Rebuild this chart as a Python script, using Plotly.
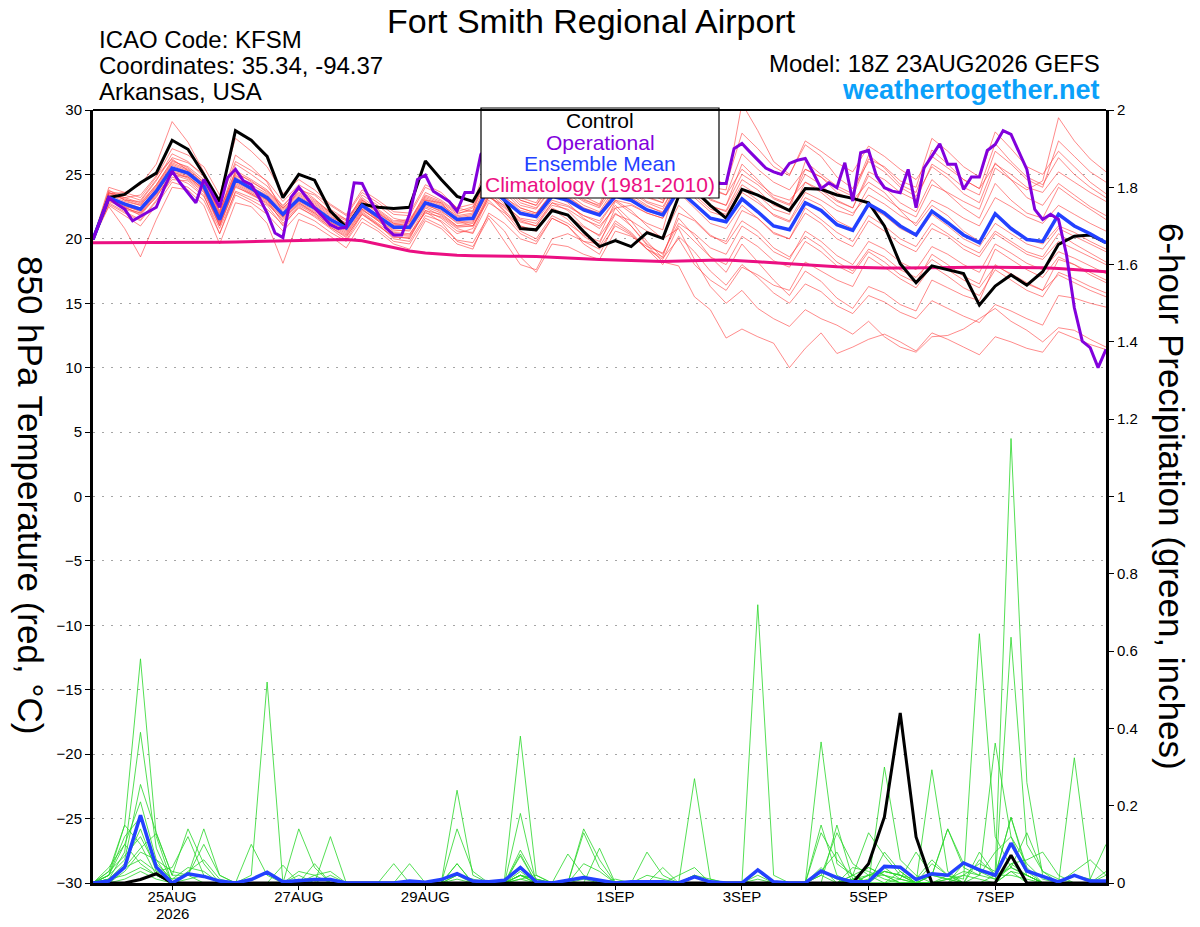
import pandas as pd
import plotly.graph_objects as go

RUN_START = "2026-08-23 18:00"
times = pd.date_range(RUN_START, periods=65, freq="6h")
op_times = pd.date_range(RUN_START, periods=129, freq="3h")

tick_dates = ["2026-08-25", "2026-08-27", "2026-08-29", "2026-09-01",
              "2026-09-03", "2026-09-05", "2026-09-07"]
tick_text = ["25AUG", "27AUG", "29AUG", "1SEP", "3SEP", "5SEP", "7SEP"]
year_label = "2026"
temp_ticks = [30, 25, 20, 15, 10, 5, 0, -5, -10, -15, -20, -25, -30]
precip_ticks = [0, 0.2, 0.4, 0.6, 0.8, 1, 1.2, 1.4, 1.6, 1.8, 2]

# ---- 850 hPa temperature (deg C) ----
control_t = [19.95, 23.2, 23.45, 24.35, 25.1, 27.65, 26.95, 25.0, 22.9, 28.4, 27.65, 26.4, 23.2,
             25.0, 24.55, 22.15, 20.9, 22.7, 22.45, 22.35, 22.45, 26.05, 24.6, 23.3, 22.9, 25.0,
             23.0, 20.8, 20.7, 22.2, 21.85, 20.56, 19.4, 19.86, 19.4, 20.48, 20.04, 23.3, 23.8,
             22.6, 21.6, 23.84, 23.4, 22.8, 22.2, 23.9, 23.84, 23.4, 23.14, 22.8, 21.0, 18.07,
             16.6, 17.9, 17.6, 17.3, 14.86, 16.33, 17.2, 16.4, 17.45, 19.57, 20.2, 20.3, 19.7]

mean_t = [19.95, 23.2, 22.7, 22.3, 23.7, 25.5, 25.1, 24.1, 21.5, 24.6, 23.9, 23.2, 21.9,
          23.1, 22.4, 21.5, 20.85, 22.6, 21.75, 20.9, 20.9, 22.8, 22.4, 21.5, 21.6, 24.0,
          23.0, 21.98, 21.72, 23.3, 23.0, 22.24, 21.85, 23.3, 23.0, 22.24, 21.85, 23.8, 22.7,
          21.6, 21.33, 23.1, 22.1, 21.0, 20.7, 22.8, 22.2, 21.1, 20.65, 22.7, 22.0, 21.0,
          20.3, 22.15, 21.25, 20.3, 19.7, 21.95, 20.8, 19.95, 19.8, 21.9, 21.0, 20.4, 19.7]

oper_t = [19.95, 21.6, 23.2, 22.7, 22.3, 21.4, 21.75, 22.1, 22.45, 23.95,
          25.25, 24.35, 23.6, 22.8, 24.6, 23.6, 22.45, 24.75, 25.4, 24.5,
          24.2, 23.2, 22.0, 20.45, 20.1, 23.2, 24.0, 23.2, 22.4, 21.75,
          21.1, 20.8, 20.9, 24.35, 24.3, 23.05, 21.9, 20.85, 20.3, 20.3,
          21.9, 24.6, 24.95, 23.7, 23.3, 22.9, 22.15, 23.6, 23.6, 26.55,
          27.2, 26.5, 25.5, 24.8, 24.3, 24.0, 24.5, 26.0, 26.8, 26.3,
          25.6, 25.0, 24.5, 24.3, 24.6, 25.8, 26.6, 26.2, 25.5, 24.9,
          24.4, 24.0, 24.3, 25.5, 26.4, 26.0, 25.2, 24.6, 24.3, 24.3,
          24.3, 27.0, 27.4, 26.75, 26.1, 25.5, 25.2, 25.0, 25.85, 26.1,
          26.24, 25.13, 23.9, 24.35, 23.97, 25.9, 22.93, 26.68, 26.86, 24.87,
          23.97, 23.7, 23.58, 25.39, 22.41, 25.5, 26.42, 27.38, 25.78, 25.78,
          23.84, 24.8, 24.8, 26.86, 27.33, 28.4, 28.1, 26.68, 25.39, 22.28,
          21.5, 21.9, 21.5, 18.8, 14.65, 12.06, 11.55, 10.0, 11.42]

clim_t = [19.7, 19.7, 19.7, 19.7, 19.7, 19.7, 19.7, 19.72, 19.74, 19.76, 19.78, 19.8, 19.82,
          19.85, 19.88, 19.92, 19.95, 19.85, 19.6, 19.3, 19.05, 18.9, 18.8, 18.72, 18.68, 18.68,
          18.66, 18.64, 18.62, 18.58, 18.52, 18.46, 18.4, 18.34, 18.3, 18.27, 18.25, 18.26, 18.3,
          18.33, 18.35, 18.3, 18.22, 18.14, 18.06, 17.98, 17.9, 17.84, 17.8, 17.76, 17.74, 17.74,
          17.76, 17.78, 17.8, 17.8, 17.8, 17.8, 17.8, 17.78, 17.75, 17.7, 17.62, 17.55, 17.45]

temp_m01 = [20.0, 23.8, 23.0, 22.9, 24.5, 26.6, 26.0, 24.8, 22.0, 25.8, 25.0, 24.1, 22.5,
            24.0, 23.1, 22.0, 21.2, 23.4, 22.6, 21.6, 21.3, 23.6, 23.0, 22.1, 22.5, 25.2,
            24.3, 23.0, 22.6, 24.6, 24.2, 23.1, 22.5, 24.8, 24.4, 23.3, 22.8, 25.5, 24.3,
            23.0, 22.6, 25.8, 24.6, 23.2, 22.7, 25.0, 24.2, 23.0, 22.4, 24.9, 24.0, 22.8,
            22.1, 24.6, 23.5, 22.4, 21.6, 24.3, 23.0, 22.0, 21.6, 24.0, 23.1, 22.3, 21.5]
temp_m02 = [19.9, 23.5, 23.6, 24.2, 25.8, 29.1, 27.5, 25.2, 22.6, 26.5, 25.6, 24.4, 22.0,
            23.8, 23.4, 22.3, 21.5, 23.1, 22.0, 21.2, 21.0, 23.0, 22.8, 21.4, 21.0, 23.5,
            22.2, 21.0, 20.6, 22.4, 21.8, 20.9, 20.3, 22.9, 22.0, 21.2, 20.7, 25.0, 24.6,
            24.0, 23.8, 30.5, 28.4, 26.0, 25.0, 27.3, 26.4, 24.8, 23.9, 26.0, 25.2, 24.0,
            23.3, 25.6, 24.7, 23.5, 22.8, 25.9, 24.6, 23.2, 22.6, 24.3, 23.4, 22.5, 21.8]
temp_m03 = [19.95, 22.8, 22.1, 21.5, 23.0, 24.6, 24.5, 23.4, 20.4, 23.7, 23.2, 22.6, 21.0,
            22.5, 21.7, 20.8, 19.9, 21.9, 21.0, 20.2, 20.0, 22.2, 21.6, 20.6, 20.5, 23.3,
            22.4, 21.3, 21.0, 22.6, 22.3, 21.5, 21.0, 22.4, 21.0, 19.5, 18.2, 17.9, 15.5,
            14.5, 12.3, 13.0, 12.4, 11.9, 10.0, 11.5, 12.7, 11.1, 11.6, 12.2, 12.6, 12.0,
            11.3, 12.7, 12.2, 11.6, 11.0, 12.4, 12.0, 11.5, 11.2, 12.8, 12.3, 11.8, 11.4]
temp_m04 = [20.0, 23.0, 22.3, 21.9, 23.4, 25.0, 24.8, 23.9, 21.0, 24.0, 23.5, 22.9, 21.6,
            22.8, 22.0, 21.1, 20.4, 22.2, 21.5, 20.7, 20.6, 22.5, 22.0, 21.0, 21.2, 23.8,
            22.7, 21.5, 21.2, 22.8, 22.5, 21.8, 21.2, 23.0, 22.2, 21.0, 20.0, 20.8, 18.4,
            16.3, 15.0, 16.0, 14.6, 13.8, 13.2, 14.5, 13.8, 13.3, 12.6, 13.6, 12.4, 11.6,
            11.2, 12.4, 12.5, 13.0, 13.8, 14.6, 13.6, 12.9, 12.0, 13.1, 12.9, 12.2, 11.6]
temp_m05 = [19.9, 22.9, 22.4, 22.0, 23.2, 25.2, 24.8, 23.8, 21.2, 24.3, 23.6, 23.0, 21.7,
            23.2, 22.5, 21.6, 20.9, 22.3, 21.4, 20.5, 20.4, 22.0, 21.7, 20.8, 20.4, 22.8,
            22.0, 21.0, 20.6, 22.3, 21.5, 20.2, 19.4, 21.4, 20.5, 19.2, 18.0, 20.2, 19.0,
            17.5, 16.4, 18.0, 17.0, 15.8, 15.0, 16.5, 15.9, 14.8, 14.2, 15.6, 15.1, 14.3,
            13.8, 15.2, 14.6, 14.0, 13.5, 14.9, 14.4, 13.8, 13.3, 15.6, 15.4, 15.0, 14.7]
temp_m06 = [20.0, 23.6, 23.2, 22.8, 24.2, 26.0, 25.6, 24.6, 22.2, 25.2, 24.4, 23.7, 22.6,
            23.8, 23.0, 22.1, 21.5, 23.2, 22.3, 21.4, 21.5, 23.4, 22.9, 22.0, 22.2, 24.8,
            24.0, 22.8, 22.4, 24.0, 23.7, 22.9, 22.4, 24.2, 23.8, 22.9, 22.5, 24.5, 23.6,
            22.5, 22.2, 24.6, 23.8, 22.6, 22.2, 26.0, 25.0, 24.1, 23.5, 26.5, 25.5, 24.2,
            23.6, 26.9, 25.8, 24.6, 23.9, 27.4, 26.0, 24.8, 24.2, 26.3, 25.0, 24.0, 23.2]
temp_m07 = [19.95, 22.5, 20.8, 18.6, 21.5, 24.0, 23.8, 22.6, 19.6, 22.8, 22.5, 21.2, 18.1,
            21.5, 21.0, 20.2, 19.3, 21.3, 20.6, 19.6, 19.2, 21.4, 20.8, 19.6, 19.2, 22.0,
            21.2, 20.0, 19.6, 21.6, 21.0, 19.8, 19.2, 21.0, 20.3, 19.2, 18.6, 22.0, 21.4,
            20.2, 19.8, 22.2, 21.6, 20.5, 20.0, 22.4, 21.5, 20.5, 19.8, 21.8, 21.0, 20.0,
            19.4, 21.2, 20.4, 19.5, 18.9, 20.6, 19.8, 19.0, 18.6, 20.4, 19.6, 18.9, 18.2]
temp_m08 = [20.0, 24.0, 23.6, 23.2, 24.8, 27.0, 26.5, 25.6, 23.4, 27.8, 26.8, 25.6, 23.5,
            24.6, 23.8, 22.7, 21.9, 23.8, 23.0, 22.1, 22.0, 24.2, 23.6, 22.4, 22.1, 25.6,
            24.6, 23.2, 22.8, 24.8, 24.2, 23.3, 22.7, 25.3, 24.6, 23.6, 23.0, 26.2, 25.0,
            24.0, 23.4, 26.6, 25.4, 24.4, 23.8, 25.4, 24.8, 23.6, 23.0, 24.4, 23.6, 22.2,
            21.0, 22.6, 21.8, 20.6, 19.8, 21.8, 20.9, 20.0, 19.6, 21.0, 20.5, 19.8, 19.2]
temp_m09 = [19.9, 23.3, 22.6, 22.1, 23.5, 25.4, 25.0, 24.0, 21.4, 24.5, 23.8, 23.0, 21.8,
            23.0, 22.3, 21.3, 20.6, 22.5, 21.5, 20.6, 20.7, 22.6, 22.2, 21.2, 21.3, 23.8,
            23.2, 22.4, 22.0, 23.5, 22.8, 21.6, 20.8, 22.6, 21.4, 19.8, 18.5, 20.0, 18.0,
            16.8, 16.0, 17.8, 17.2, 16.4, 16.0, 18.2, 17.5, 16.8, 16.3, 18.6, 17.8, 16.9,
            16.2, 17.9, 17.1, 16.2, 15.6, 17.6, 16.8, 16.0, 15.5, 17.4, 16.9, 16.3, 15.8]
temp_m10 = [20.0, 23.4, 22.9, 22.6, 24.0, 25.8, 25.3, 24.3, 21.8, 24.9, 24.2, 23.5, 22.3,
            23.4, 22.7, 21.8, 21.0, 22.9, 22.0, 21.1, 21.2, 23.1, 22.6, 21.8, 22.0, 24.5,
            23.8, 22.6, 22.3, 23.9, 23.5, 22.6, 22.1, 24.0, 23.6, 22.8, 22.3, 24.8, 24.0,
            23.1, 22.6, 25.0, 24.2, 23.1, 22.6, 25.4, 24.8, 23.9, 23.3, 26.2, 25.6, 24.5,
            24.0, 27.8, 26.8, 25.6, 24.8, 28.3, 27.0, 25.6, 25.0, 26.8, 25.6, 24.4, 23.5]
temp_m11 = [19.95, 23.1, 22.8, 22.4, 23.9, 25.7, 25.2, 24.0, 21.6, 24.8, 24.0, 23.4, 22.2,
            23.3, 22.6, 21.7, 21.1, 22.8, 21.8, 21.0, 21.1, 23.0, 22.5, 21.6, 21.8, 24.2,
            23.3, 22.2, 21.9, 23.5, 23.2, 22.4, 22.0, 23.6, 23.2, 22.5, 22.1, 24.2, 23.2,
            22.1, 21.7, 23.6, 22.8, 21.9, 21.4, 23.6, 23.0, 22.2, 21.8, 24.0, 23.2, 22.3,
            21.7, 24.2, 23.6, 22.9, 22.3, 25.5, 24.6, 23.8, 24.5, 29.4, 27.6, 26.2, 25.2]
temp_m12 = [20.0, 23.0, 22.5, 22.2, 23.6, 25.3, 24.9, 23.8, 21.3, 24.4, 23.7, 23.1, 21.7,
            22.9, 22.2, 21.3, 20.7, 22.4, 21.6, 20.8, 20.8, 22.7, 22.1, 21.3, 21.4, 23.6,
            22.5, 21.4, 21.0, 22.8, 22.2, 21.0, 20.2, 22.0, 21.0, 19.6, 18.8, 21.6, 20.2,
            18.6, 17.4, 19.6, 18.2, 16.8, 15.6, 17.5, 16.7, 15.4, 14.6, 16.3, 15.8, 14.9,
            14.4, 16.8, 16.2, 15.6, 15.2, 18.0, 17.2, 16.5, 16.0, 18.4, 18.0, 17.2, 16.6]
temp_m13 = [19.9, 23.7, 23.4, 23.0, 24.6, 26.3, 25.9, 25.0, 22.8, 26.0, 25.3, 24.5, 22.9,
            24.2, 23.5, 22.6, 21.8, 23.6, 22.8, 21.9, 21.8, 24.0, 23.4, 22.4, 22.7, 26.2,
            25.4, 24.0, 23.6, 25.4, 25.0, 24.0, 23.4, 25.8, 25.2, 24.4, 23.8, 27.2, 26.0,
            24.8, 24.2, 28.2, 27.0, 25.6, 24.9, 27.6, 26.8, 25.9, 25.2, 27.2, 26.4, 25.4,
            24.6, 26.4, 25.5, 24.6, 23.9, 25.8, 25.0, 24.0, 23.6, 25.2, 24.4, 23.6, 22.9]
temp_m14 = [20.0, 23.2, 22.5, 21.8, 23.3, 25.0, 24.6, 23.6, 21.0, 24.1, 23.4, 22.8, 21.4,
            22.7, 22.0, 21.0, 20.3, 22.1, 21.2, 20.3, 20.2, 22.1, 21.3, 19.8, 19.4, 21.6,
            19.8, 18.0, 17.6, 20.0, 20.4, 19.8, 19.6, 22.4, 22.6, 22.0, 21.6, 24.2, 23.4,
            22.3, 21.9, 23.9, 23.0, 21.8, 21.3, 23.2, 22.6, 21.4, 20.8, 22.5, 21.8, 20.8,
            20.2, 21.9, 21.0, 20.0, 19.4, 21.2, 20.4, 19.6, 19.2, 20.8, 20.2, 19.6, 19.0]
temp_m15 = [19.95, 23.5, 23.2, 23.4, 24.9, 26.2, 25.3, 24.2, 21.9, 25.0, 24.1, 23.0, 21.2,
            22.6, 21.9, 20.9, 20.1, 22.0, 21.1, 20.0, 19.8, 21.8, 21.4, 20.4, 20.8, 23.4,
            22.1, 20.6, 20.0, 21.8, 21.2, 20.3, 19.8, 21.9, 21.4, 20.6, 20.1, 22.6, 21.5,
            20.3, 19.6, 21.4, 20.6, 19.3, 18.6, 20.2, 19.4, 18.2, 17.5, 19.2, 18.6, 17.6,
            17.0, 18.4, 17.6, 16.8, 16.2, 17.9, 17.3, 16.6, 16.0, 17.2, 16.6, 16.0, 15.5]
temp_m16 = [20.0, 22.7, 22.0, 21.4, 22.9, 24.8, 24.3, 23.3, 20.8, 23.6, 23.0, 22.3, 21.1,
            22.4, 21.8, 20.9, 20.2, 21.9, 21.1, 20.1, 20.1, 22.2, 21.9, 21.0, 21.0, 23.2,
            22.6, 21.6, 21.4, 23.0, 22.6, 21.8, 21.4, 23.0, 22.7, 22.0, 21.6, 23.6, 22.4,
            21.2, 20.8, 22.6, 21.6, 20.4, 20.0, 22.0, 21.2, 20.0, 19.4, 21.4, 20.6, 19.6,
            19.0, 20.8, 20.2, 19.2, 18.6, 20.4, 19.6, 18.8, 18.4, 19.8, 19.2, 18.6, 18.0]
temp_m17 = [20.0, 23.1, 22.4, 22.0, 23.5, 25.2, 24.7, 23.7, 21.1, 24.2, 23.5, 22.7, 21.5,
            22.8, 22.1, 21.2, 20.5, 22.3, 21.4, 20.4, 20.3, 22.4, 21.8, 20.9, 21.0, 23.0,
            21.8, 20.4, 19.8, 21.6, 21.0, 19.6, 18.8, 21.2, 20.4, 19.2, 18.4, 21.0, 19.8,
            18.6, 18.0, 20.2, 19.4, 18.3, 17.8, 19.8, 19.0, 17.9, 17.3, 19.0, 18.2, 17.2,
            16.6, 18.8, 18.0, 17.1, 16.5, 19.2, 18.4, 17.6, 17.0, 18.6, 18.0, 17.4, 16.8]
temp_m18 = [19.95, 23.6, 23.0, 22.6, 24.1, 25.9, 25.4, 24.4, 22.1, 25.3, 24.6, 23.8, 22.4,
            23.6, 22.9, 22.0, 21.4, 23.0, 22.2, 21.3, 21.4, 23.3, 22.8, 21.9, 22.4, 25.0,
            24.2, 23.0, 22.6, 24.2, 23.9, 23.0, 22.6, 24.6, 24.0, 23.2, 22.8, 26.0, 24.9,
            23.8, 23.4, 25.4, 24.4, 23.4, 23.0, 24.4, 23.6, 22.6, 22.0, 23.4, 22.7, 21.8,
            21.2, 23.0, 22.4, 21.6, 21.0, 23.2, 22.5, 21.7, 21.2, 22.6, 21.9, 21.2, 20.6]
temp_m19 = [20.0, 22.6, 21.8, 21.0, 22.6, 24.4, 24.0, 23.0, 20.4, 23.4, 22.8, 21.9, 20.6,
            22.0, 21.4, 20.5, 19.8, 21.6, 20.8, 19.8, 19.6, 21.6, 21.0, 19.9, 19.7, 21.8,
            20.6, 18.6, 17.4, 19.6, 19.4, 18.8, 18.4, 20.6, 20.2, 19.4, 18.9, 21.2, 20.4,
            19.3, 18.8, 21.0, 20.2, 19.0, 18.4, 20.6, 19.8, 18.7, 18.0, 19.8, 19.2, 18.2,
            17.6, 19.4, 18.8, 18.0, 17.4, 19.6, 18.9, 18.1, 17.6, 19.0, 18.5, 17.9, 17.3]
temp_m20 = [19.9, 23.4, 23.1, 22.7, 24.2, 26.1, 25.5, 24.4, 21.9, 25.1, 24.5, 23.6, 22.4,
            23.5, 22.8, 21.9, 21.2, 23.0, 22.1, 21.2, 21.3, 23.2, 22.7, 21.7, 21.9, 24.4,
            23.6, 22.4, 22.0, 23.6, 23.3, 22.4, 21.9, 23.8, 23.4, 22.6, 22.0, 24.6, 23.6,
            22.6, 22.1, 24.2, 23.4, 22.3, 21.9, 24.4, 23.8, 22.9, 22.4, 25.2, 24.6, 23.6,
            23.0, 25.8, 25.0, 24.0, 23.4, 26.8, 25.8, 24.6, 24.0, 27.6, 26.4, 25.2, 24.4]

# ---- 6-hour precipitation (inches) ----
control_p = [0, 0, 0, 0.009, 0.024, 0, 0, 0, 0, 0, 0, 0, 0,
             0, 0, 0, 0, 0, 0, 0, 0, 0, 0, 0, 0, 0,
             0, 0, 0, 0, 0, 0, 0, 0, 0, 0, 0, 0, 0,
             0, 0, 0, 0, 0, 0, 0, 0, 0, 0, 0.05, 0.171, 0.44,
             0.119, 0, 0, 0, 0, 0, 0.072, 0, 0, 0, 0, 0, 0]
mean_p = [0, 0.005, 0.041, 0.175, 0.041, 0, 0.024, 0.017, 0.005, 0, 0.009, 0.028, 0.003,
          0.007, 0.009, 0.009, 0, 0, 0, 0, 0.005, 0.002, 0.009, 0.024, 0.005, 0.003,
          0.007, 0.040, 0.003, 0, 0.007, 0.014, 0.007, 0, 0.003, 0.004, 0.003, 0, 0.016,
          0.003, 0, 0, 0.034, 0.003, 0, 0, 0.031, 0.014, 0.003, 0.004, 0.043, 0.041,
          0.009, 0.024, 0.020, 0.052, 0.034, 0.020, 0.103, 0.031, 0.017, 0.003, 0.020, 0.005, 0.005]

precip_m01 = [0, 0.03, 0.15, 0.58, 0.12, 0, 0.01, 0.02, 0, 0, 0.02, 0.52, 0,
              0.02, 0, 0, 0, 0, 0, 0, 0, 0, 0, 0.01, 0, 0,
              0, 0.02, 0, 0, 0, 0.01, 0, 0, 0, 0, 0, 0, 0.02,
              0, 0, 0, 0.01, 0, 0, 0, 0.03, 0.01, 0, 0.02, 0.04, 0.01,
              0, 0, 0, 0.02, 0.05, 0.03, 1.15, 0.26, 0.02, 0, 0, 0, 0]
precip_m02 = [0, 0.01, 0.08, 0.39, 0.09, 0, 0, 0, 0, 0, 0, 0, 0,
              0, 0, 0, 0, 0, 0, 0, 0, 0, 0, 0, 0, 0,
              0.01, 0.38, 0.02, 0, 0, 0, 0, 0, 0, 0, 0, 0, 0,
              0, 0, 0, 0.72, 0.02, 0, 0, 0, 0.15, 0.01, 0, 0, 0.03,
              0, 0.02, 0.01, 0, 0.08, 0.02, 0.17, 0.03, 0, 0, 0, 0, 0.02]
precip_m03 = [0, 0.02, 0.06, 0.255, 0.13, 0.02, 0.14, 0.05, 0, 0, 0, 0, 0,
              0, 0, 0, 0, 0, 0, 0, 0, 0, 0, 0.24, 0.02, 0,
              0, 0.07, 0, 0, 0, 0, 0, 0, 0, 0, 0, 0, 0,
              0, 0, 0, 0, 0, 0, 0, 0.365, 0.05, 0.02, 0, 0.03, 0.02,
              0.01, 0.06, 0.02, 0, 0.02, 0.08, 0.12, 0.05, 0.01, 0, 0, 0, 0]
precip_m04 = [0, 0.04, 0.1, 0.21, 0.06, 0, 0, 0, 0, 0, 0, 0, 0,
              0.14, 0.04, 0, 0, 0, 0, 0, 0, 0, 0, 0, 0, 0,
              0, 0.02, 0, 0, 0, 0, 0, 0.01, 0, 0.02, 0.01, 0, 0.27,
              0.01, 0, 0, 0, 0, 0, 0, 0, 0, 0.02, 0.04, 0.02, 0,
              0, 0.05, 0.02, 0.01, 0.645, 0.12, 0.04, 0.02, 0, 0, 0, 0, 0]
precip_m05 = [0, 0.02, 0.12, 0.17, 0.05, 0.01, 0.02, 0.14, 0.02, 0, 0, 0, 0,
              0, 0, 0.02, 0, 0, 0, 0, 0, 0, 0, 0, 0, 0,
              0, 0.02, 0.01, 0, 0, 0.14, 0.06, 0, 0, 0, 0, 0, 0.02,
              0, 0, 0, 0, 0, 0, 0, 0, 0, 0.02, 0, 0.30, 0.06,
              0.02, 0, 0, 0, 0, 0.02, 0.04, 0.02, 0, 0, 0, 0, 0]
precip_m06 = [0, 0.01, 0.05, 0.14, 0.03, 0.04, 0.12, 0.02, 0, 0, 0, 0, 0,
              0, 0, 0.12, 0, 0, 0, 0, 0, 0, 0, 0, 0, 0,
              0, 0.04, 0, 0, 0, 0, 0, 0, 0, 0, 0, 0, 0,
              0, 0, 0, 0, 0, 0, 0, 0.02, 0.13, 0.05, 0.02, 0, 0,
              0, 0, 0, 0, 0, 0, 0.636, 0.1, 0.03, 0.01, 0, 0, 0]
precip_m07 = [0, 0.03, 0.07, 0.12, 0.04, 0, 0, 0, 0, 0, 0.1, 0.02, 0,
              0, 0, 0, 0, 0, 0, 0.05, 0, 0, 0, 0.14, 0.03, 0,
              0, 0.085, 0.01, 0, 0, 0, 0, 0, 0, 0, 0, 0, 0,
              0, 0, 0, 0, 0, 0, 0, 0.04, 0, 0, 0.02, 0.03, 0.02,
              0, 0.293, 0.03, 0, 0.06, 0.02, 0.02, 0.01, 0, 0, 0, 0, 0]
precip_m08 = [0, 0.02, 0.15, 0.1, 0.02, 0, 0, 0, 0, 0, 0, 0, 0.046,
              0, 0, 0, 0, 0, 0, 0, 0.05, 0, 0, 0.05, 0, 0,
              0, 0.18, 0, 0, 0, 0, 0, 0, 0, 0, 0, 0, 0,
              0, 0, 0, 0.02, 0, 0, 0, 0.02, 0, 0.01, 0.02, 0.02, 0,
              0, 0, 0.02, 0, 0, 0, 0.03, 0, 0, 0, 0.324, 0.01, 0]
precip_m09 = [0, 0.01, 0.04, 0.09, 0.128, 0.02, 0.02, 0.1, 0.02, 0, 0, 0, 0,
              0, 0.05, 0, 0, 0, 0, 0, 0, 0, 0, 0.02, 0, 0,
              0, 0.03, 0, 0, 0.075, 0.02, 0, 0, 0, 0, 0, 0, 0,
              0, 0, 0, 0.03, 0, 0, 0, 0.13, 0.06, 0.02, 0.13, 0.07, 0.02,
              0, 0.02, 0.14, 0.04, 0.02, 0.362, 0.12, 0.02, 0, 0, 0, 0, 0]
precip_m10 = [0, 0, 0.03, 0.08, 0.06, 0.03, 0.02, 0, 0, 0, 0, 0, 0,
              0, 0, 0, 0, 0, 0, 0, 0, 0, 0, 0, 0, 0,
              0, 0.02, 0, 0, 0, 0, 0.09, 0, 0, 0.08, 0.02, 0, 0.02,
              0.01, 0, 0, 0, 0, 0, 0, 0, 0, 0.01, 0.04, 0.02, 0.01,
              0, 0, 0.01, 0.03, 0.02, 0.01, 0.04, 0.13, 0.03, 0, 0.02, 0.01, 0.1]
precip_m11 = [0, 0.02, 0.1, 0.05, 0.02, 0, 0, 0, 0, 0, 0, 0, 0,
              0, 0.02, 0, 0, 0, 0, 0, 0, 0, 0, 0.05, 0, 0,
              0, 0.075, 0, 0, 0, 0.13, 0.04, 0, 0, 0, 0.04, 0, 0,
              0, 0, 0, 0, 0, 0, 0, 0.15, 0.02, 0, 0, 0.08, 0.03,
              0, 0, 0, 0.05, 0.03, 0.02, 0.17, 0.04, 0, 0, 0, 0, 0]
precip_m12 = [0, 0.01, 0.04, 0.06, 0.03, 0.01, 0.04, 0.03, 0, 0, 0, 0, 0,
              0.03, 0.02, 0.03, 0, 0, 0, 0, 0, 0, 0, 0, 0, 0,
              0, 0.01, 0.02, 0, 0, 0.05, 0.03, 0, 0, 0, 0, 0.02, 0.04,
              0, 0, 0, 0, 0, 0, 0, 0.03, 0.08, 0, 0.01, 0.03, 0.02,
              0, 0.02, 0.14, 0.05, 0.03, 0.01, 0.05, 0.06, 0.08, 0.02, 0, 0, 0.03]
precip_m13 = [0, 0.01, 0.02, 0.04, 0.02, 0, 0.03, 0.06, 0.01, 0, 0, 0, 0,
              0.01, 0, 0, 0, 0, 0, 0, 0, 0, 0, 0, 0, 0,
              0, 0.02, 0.01, 0, 0, 0, 0, 0, 0, 0, 0, 0, 0,
              0, 0, 0, 0, 0, 0, 0, 0, 0, 0.04, 0.03, 0.01, 0,
              0, 0, 0.01, 0.02, 0.01, 0, 0.05, 0.02, 0, 0, 0.03, 0.06, 0.02]
precip_m14 = [0, 0, 0.01, 0.03, 0.01, 0, 0, 0, 0, 0, 0, 0, 0,
              0, 0, 0, 0, 0, 0, 0, 0, 0, 0, 0.02, 0.01, 0,
              0, 0.01, 0, 0, 0, 0, 0, 0, 0, 0, 0, 0, 0,
              0, 0, 0, 0, 0, 0, 0, 0, 0, 0, 0, 0, 0.01, 0.08,
              0.02, 0.01, 0, 0, 0, 0.03, 0.02, 0, 0, 0, 0, 0, 0.05]

temp_members = [temp_m01, temp_m02, temp_m03, temp_m04, temp_m05, temp_m06, temp_m07, temp_m08,
                temp_m09, temp_m10, temp_m11, temp_m12, temp_m13, temp_m14, temp_m15, temp_m16,
                temp_m17, temp_m18, temp_m19, temp_m20]
precip_members = [precip_m01, precip_m02, precip_m03, precip_m04, precip_m05, precip_m06, precip_m07,
                  precip_m08, precip_m09, precip_m10, precip_m11, precip_m12, precip_m13, precip_m14]

n = len(times)
temp_members = [m[:n] + [m[-1]] * (n - len(m)) for m in temp_members]
precip_members = [m[:n] + [0] * (n - len(m)) for m in precip_members]

FONT = "Liberation Sans, Arial, Helvetica, sans-serif"
RED = "rgba(255,60,60,0.75)"
GREEN = "rgb(40,215,40)"
BLACK = "black"
PURPLE = "rgb(130,0,220)"
BLUE = "rgb(35,65,255)"
PINK = "rgb(235,15,130)"

fig = go.Figure()

for m in temp_members:
    fig.add_trace(go.Scatter(x=times, y=m, mode="lines", line=dict(color=RED, width=0.8),
                             showlegend=False, hoverinfo="skip"))
for m in precip_members:
    fig.add_trace(go.Scatter(x=times, y=m, mode="lines", line=dict(color=GREEN, width=0.8),
                             yaxis="y2", showlegend=False, hoverinfo="skip"))

fig.add_trace(go.Scatter(x=times, y=control_p, mode="lines", line=dict(color=BLACK, width=3),
                         yaxis="y2", showlegend=False))
fig.add_trace(go.Scatter(x=times, y=mean_p, mode="lines", line=dict(color=BLUE, width=3.5),
                         yaxis="y2", showlegend=False))

fig.add_trace(go.Scatter(x=times, y=clim_t, mode="lines", line=dict(color=PINK, width=3),
                         showlegend=False))
fig.add_trace(go.Scatter(x=times, y=control_t, mode="lines", line=dict(color=BLACK, width=3),
                         showlegend=False))
fig.add_trace(go.Scatter(x=times, y=mean_t, mode="lines", line=dict(color=BLUE, width=3.5),
                         showlegend=False))
fig.add_trace(go.Scatter(x=op_times, y=oper_t, mode="lines", line=dict(color=PURPLE, width=3),
                         showlegend=False))

# plot area in page pixels (body margin is removed below, so page = figure coordinates)
L, R, T, B = 93, 1106, 110, 883


def px(x):
    return (x - L) / (R - L)


def py(y):
    return (B - y) / (B - T)


annotations = [
    dict(text="Fort Smith Regional Airport", x=px(591), y=py(0), xanchor="center", yanchor="top",
         font=dict(size=34, color="black")),
    dict(text="ICAO Code: KFSM", x=px(97), y=py(40), xanchor="left", yanchor="middle",
         font=dict(size=24, color="black")),
    dict(text="Coordinates: 35.34, -94.37", x=px(97), y=py(66), xanchor="left", yanchor="middle",
         font=dict(size=24, color="black")),
    dict(text="Arkansas, USA", x=px(97), y=py(92), xanchor="left", yanchor="middle",
         font=dict(size=24, color="black")),
    dict(text="Model: 18Z 23AUG2026 GEFS", x=px(1102), y=py(63), xanchor="right", yanchor="middle",
         font=dict(size=24, color="black")),
    dict(text="<b>weathertogether.net</b>", x=px(1102), y=py(90), xanchor="right", yanchor="middle",
         font=dict(size=27, color="rgb(10,160,250)")),
    dict(text="Control", x=px(600), y=py(121), xanchor="center", yanchor="middle",
         font=dict(size=21, color=BLACK)),
    dict(text="Operational", x=px(600), y=py(142), xanchor="center", yanchor="middle",
         font=dict(size=21, color=PURPLE)),
    dict(text="Ensemble Mean", x=px(600), y=py(163), xanchor="center", yanchor="middle",
         font=dict(size=21, color=BLUE)),
    dict(text="Climatology (1981-2010)", x=px(600), y=py(185), xanchor="center", yanchor="middle",
         font=dict(size=21, color=PINK)),
    dict(text="850 hPa Temperature (red, °C)", x=px(31), y=py(495), xanchor="center",
         yanchor="middle", textangle=90, font=dict(size=35, color="black")),
    dict(text="6-hour Precipitation (green, inches)", x=px(1172), y=py(496), xanchor="center",
         yanchor="middle", textangle=90, font=dict(size=35, color="black")),
]
for a in annotations:
    a.update(xref="paper", yref="paper", showarrow=False)
# year under the first date tick
annotations.append(dict(text=year_label, x=pd.to_datetime(tick_dates[0]), xref="x", y=py(913),
                        yref="paper", xanchor="center", yanchor="middle", showarrow=False,
                        font=dict(size=15, color="black")))

shapes = [
    dict(type="rect", xref="paper", yref="paper", x0=px(481), x1=px(719), y0=py(198), y1=py(108),
         fillcolor="white", line=dict(color="black", width=1.2), layer="above"),
    dict(type="line", xref="paper", yref="paper", x0=0, x1=1, y0=1, y1=1,
         line=dict(color="black", width=2), layer="above"),
]

fig.update_layout(
    width=1200, height=927,
    margin=dict(l=L, r=1200 - R, t=T, b=927 - B, pad=0, autoexpand=False),
    paper_bgcolor="white", plot_bgcolor="white",
    font=dict(family=FONT, color="black"),
    showlegend=False,
    annotations=annotations,
    shapes=shapes,
    xaxis=dict(
        type="date", range=[times[0], times[-1]], automargin=False,
        tickvals=pd.to_datetime(tick_dates), ticktext=tick_text,
        ticks="outside", ticklen=4, tickwidth=1, tickcolor="black", ticklabelstandoff=-6,
        showgrid=False, zeroline=False,
        showline=True, linecolor="black", linewidth=3,
        tickfont=dict(size=15, color="black"),
    ),
    yaxis=dict(
        range=[-30, 30], tickvals=temp_ticks, automargin=False,
        ticks="outside", ticklen=5, tickwidth=1, tickcolor="black",
        showgrid=True, gridcolor="rgb(165,165,165)", griddash="2px,7px", gridwidth=1.2,
        zeroline=False, showline=True, linecolor="black", linewidth=3,
        tickfont=dict(size=15, color="black"),
    ),
    yaxis2=dict(
        range=[0, 2], tickvals=precip_ticks, overlaying="y", side="right", automargin=False,
        ticks="outside", ticklen=5, tickwidth=1, tickcolor="black",
        showgrid=False, zeroline=False, showline=True, linecolor="black", linewidth=3,
        tickfont=dict(size=15, color="black"),
    ),
)

fig.write_html("out.html", config={"displayModeBar": False},
               post_script="document.body.style.margin='0px';")
